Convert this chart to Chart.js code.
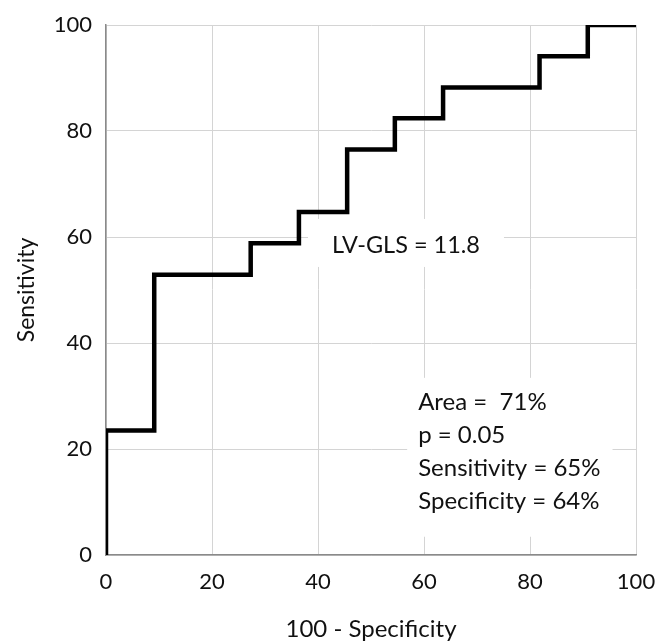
<!DOCTYPE html>
<html><head><meta charset="utf-8">
<script src="https://cdn.jsdelivr.net/npm/chart.js@4.4.1/dist/chart.umd.min.js"></script>
<style>html,body{margin:0;padding:0;background:#fff;}#wrap{width:659px;height:644px;}</style>
</head><body><div id="wrap"><canvas id="c" width="659" height="644"></canvas></div>
<script>
// ROC curve corners (100 - specificity, sensitivity)
const oneMinusSpecificity = [0, 0, 9.1, 9.1, 27.3, 27.3, 36.4, 36.4, 45.5, 45.5, 54.5, 54.5, 63.6, 63.6, 81.8, 81.8, 90.9, 90.9, 100];
const sensitivity        = [0, 23.5, 23.5, 52.9, 52.9, 58.8, 58.8, 64.7, 64.7, 76.5, 76.5, 82.4, 82.4, 88.2, 88.2, 94.1, 94.1, 100, 100];
const xTickValues = [0, 20, 40, 60, 80, 100];
const yTickValues = [0, 20, 40, 60, 80, 100];
const xAxisTitle = '100 - Specificity';
const yAxisTitle = 'Sensitivity';
const curveLabel = 'LV-GLS = 11.8';
const statsLines = ['Area =  71%', 'p = 0.05', 'Sensitivity = 65%', 'Specificity = 64%'];

const FONT = 'Lato, "Open Sans", sans-serif';
const points = oneMinusSpecificity.map((v, i) => ({x: v, y: sensitivity[i]}));

const annotations = {
  id: 'annotations',
  beforeDatasetsDraw(chart, args, opts) {
    const {ctx, scales: {x, y}} = chart;
    ctx.save();
    ctx.textBaseline = 'middle';
    // curve label
    ctx.font = opts.labelSize + 'px ' + FONT;
    const lx = x.getPixelForValue(opts.labelAt[0]);
    const ly = y.getPixelForValue(opts.labelAt[1]);
    const lw = ctx.measureText(curveLabel).width;
    ctx.fillStyle = '#fff';
    ctx.fillRect(lx - lw / 2 - 24, ly - 26, lw + 48, 48);
    ctx.fillStyle = '#111';
    ctx.textAlign = 'center';
    ctx.fillText(curveLabel, lx, ly);
    // stats box
    ctx.font = opts.statsSize + 'px ' + FONT;
    const sx = x.getPixelForValue(opts.statsAt[0]);
    const sy = y.getPixelForValue(opts.statsAt[1]);
    let maxW = 0;
    statsLines.forEach(t => maxW = Math.max(maxW, ctx.measureText(t).width));
    ctx.fillStyle = '#fff';
    ctx.fillRect(sx - 11, sy - 24, maxW + 23, opts.lineGap * (statsLines.length - 1) + 59);
    ctx.fillStyle = '#111';
    ctx.textAlign = 'left';
    statsLines.forEach((t, i) => ctx.fillText(t, sx, sy + i * opts.lineGap));
    ctx.restore();
  }
};

new Chart(document.getElementById('c'), {
  type: 'scatter',
  data: {
    datasets: [{
      data: points,
      showLine: true,
      borderColor: '#000',
      borderWidth: 4.5,
      borderJoinStyle: 'miter',
      pointRadius: 0,
      pointHoverRadius: 0,
      fill: false,
      tension: 0
    }]
  },
  options: {
    responsive: false,
    devicePixelRatio: 1,
    animation: false,
    events: [],
    layout: {padding: {top: 25, right: 23, left: 0, bottom: 0}},
    plugins: {
      legend: {display: false},
      tooltip: {enabled: false},
      annotations: {labelSize: 23.5, statsSize: 24, labelAt: [56.6, 58.5], statsAt: [58.9, 28.9], lineGap: 33.3}
    },
    scales: {
      x: {
        type: 'linear', min: 0, max: 100,
        afterBuildTicks: s => { s.ticks = xTickValues.map(v => ({value: v})); },
        ticks: {font: {family: FONT, size: 22}, color: '#111', padding: 14, maxRotation: 0},
        grid: {color: '#d4d4d4', lineWidth: 1, drawTicks: false},
        border: {color: '#8a8a8a', width: 1.5},
        title: {display: true, text: xAxisTitle, font: {family: FONT, size: 24}, color: '#111', padding: {top: 0, bottom: 0}},
        afterFit: s => { s.height = 89; s.paddingLeft = 0; s.paddingRight = 0; }
      },
      y: {
        type: 'linear', min: 0, max: 100,
        afterBuildTicks: s => { s.ticks = yTickValues.map(v => ({value: v})); },
        ticks: {font: {family: FONT, size: 22}, color: '#111', padding: 14},
        grid: {color: '#d4d4d4', lineWidth: 1, drawTicks: false},
        border: {color: '#8a8a8a', width: 1.5},
        title: {display: true, text: yAxisTitle, font: {family: FONT, size: 23}, color: '#111', padding: {top: 13, bottom: 0}},
        afterFit: s => { s.width = 106; s.paddingTop = 0; s.paddingBottom = 0; }
      }
    }
  },
  plugins: [annotations]
});
</script>
</body></html>
